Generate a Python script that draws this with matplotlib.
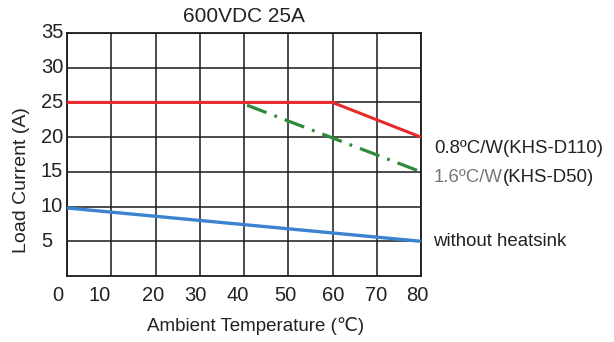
import matplotlib.pyplot as plt

plt.rcParams["font.family"] = ["Liberation Sans", "DejaVu Sans"]
plt.rcParams["lines.scale_dashes"] = False

# derating curves (ambient temperature in degC, load current in A)
red_x = [0, 60, 80]
red_y = [25, 25, 20]
green_x = [40.7, 80]
green_y = [24.6, 15]
blue_x = [0, 80]
blue_y = [9.8, 5]

x_ticks = [0, 10, 20, 30, 40, 50, 60, 70, 80]
x_label_pos = [-2.1, 7.4, 19.5, 29.0, 38.6, 49.3, 60.2, 69.9, 79.1]
y_ticks = [5, 10, 15, 20, 25, 30, 35]

fig = plt.figure(figsize=(6.14, 3.42), dpi=100)
ax = fig.add_axes([67 / 614, 1 - 276 / 342, 354 / 614, 243 / 342])
ax.set_xlim(0, 80)
ax.set_ylim(0, 35)

# grid
for gx in x_ticks:
    ax.axvline(gx, color="#1a1a1a", lw=1.1, zorder=1)
for gy in y_ticks:
    ax.axhline(gy, color="#1a1a1a", lw=1.1, zorder=1)
for s in ax.spines.values():
    s.set_linewidth(1.3)
    s.set_color("#1a1a1a")

ax.plot(red_x, red_y, color="#e8282c", lw=2.2, zorder=3, solid_capstyle="butt")
ax.plot(green_x, green_y, color="#2e8a3a", lw=2.3, zorder=4,
        linestyle=(0, (15, 6, 2, 6)))
ax.plot(blue_x, blue_y, color="#3b82cf", lw=2.4, zorder=3, solid_capstyle="butt")

ax.set_xticks([])
ax.set_yticks([])
for lab, xp in zip(x_ticks, x_label_pos):
    ax.text(xp, -2.8, str(lab), ha="center", va="center", fontsize=14.5,
            color="#222222", clip_on=False)
for yt in y_ticks:
    ax.text(-5.9, yt, str(yt), ha="left", va="center", fontsize=14.5,
            color="#222222", clip_on=False)

fig.text(22 / 614, 1 - 180 / 342, "Load Current (A)", rotation=90,
         ha="center", va="center", fontsize=14, color="#222222")
fig.text(256 / 614, 1 - 326 / 342, "Ambient Temperature (\u2103)",
         ha="center", va="center", fontsize=13.5, color="#222222")
fig.text(244 / 614, 1 - 17 / 342, "600VDC 25A", ha="center", va="center",
         fontsize=15, color="#222222")

# curve labels on the right
fig.text(434 / 614, 1 - 149 / 342, "0.8\u00baC/W(KHS-D110)", ha="left",
         va="center", fontsize=13.4, color="#222222")
t1 = fig.text(434 / 614, 1 - 178 / 342, "1.6\u00baC/W", ha="left", va="center",
              fontsize=13.4, color="#777777", fontweight="light")
fig.canvas.draw()
bb = t1.get_window_extent()
fig.text(bb.x1 / 614, 1 - 178 / 342, "(KHS-D50)", ha="left", va="center",
         fontsize=13.4, color="#222222")
fig.text(433 / 614, 1 - 241 / 342, "without heatsink", ha="left", va="center",
         fontsize=13.4, color="#222222")

fig.savefig("out.png", dpi=100)
